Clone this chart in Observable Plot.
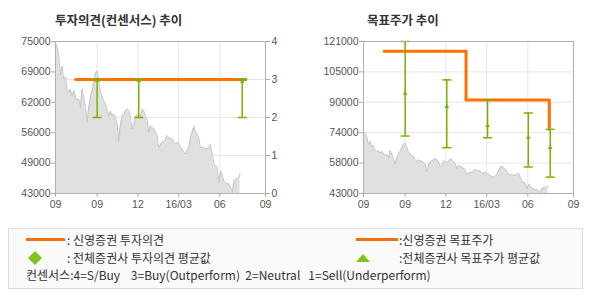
<!DOCTYPE html>
<html><head><meta charset="utf-8">
<script src="https://cdn.jsdelivr.net/npm/d3@7"></script>
<script src="https://cdn.jsdelivr.net/npm/@observablehq/plot@0.6"></script>
<style>
body{margin:0;background:#fff;}
#wrap{position:relative;width:590px;height:300px;overflow:hidden;}
.abs{position:absolute;white-space:pre;}
.title{font:bold 12.5px "Noto Sans CJK KR",sans-serif;color:#333;line-height:18px;top:11px;}
.lg{font:12px "Noto Sans CJK KR",sans-serif;color:#333;line-height:16px;}
#legend{position:absolute;left:8px;top:228px;width:573px;height:59px;border:1px solid #dcdcdc;background:#fafafa;}
.oline{position:absolute;height:3px;background:#f07010;}
</style></head>
<body><div id="wrap">
<div id="legend"></div>
<div id="leftChart" class="abs" style="left:0;top:0"></div>
<div id="rightChart" class="abs" style="left:295px;top:0"></div>
<div class="abs title" style="left:55px">투자의견(컨센서스) 추이</div>
<div class="abs title" style="left:367px">목표주가 추이</div>
<div class="oline" style="left:26px;top:238px;width:39px"></div>
<div class="abs lg" style="left:67px;top:232px">: 신영증권 투자의견</div>
<svg class="abs" style="left:28px;top:251px" width="14" height="14"><polygon points="7,0 14,7 7,14 0,7" fill="#7fc31c"/></svg>
<div class="abs lg" style="left:67px;top:250px">: 전체증권사 투자의견 평균값</div>
<div class="abs lg" style="left:26px;top:267px">컨센서스:4=S/Buy    3=Buy(Outperform)  2=Neutral   1=Sell(Underperform)</div>
<div class="oline" style="left:356px;top:238px;width:42px"></div>
<div class="abs lg" style="left:399px;top:232px">:신영증권 목표주가</div>
<svg class="abs" style="left:356px;top:254px" width="14" height="8"><polygon points="7,0 14,8 0,8" fill="#7fc31c"/></svg>
<div class="abs lg" style="left:399px;top:250px">:전체증권사 목표주가 평균값</div>
</div>
<script>
// ---- data ----
const xTickDates = ["2015-05-31","2015-09-01","2015-12-01","2016-03-01","2016-06-01","2016-09-11"];
const xTickLabels = ["09","09","12","16/03","06","09"];

const priceDates = ["2015-05-31","2015-06-04","2015-06-07","2015-06-11","2015-06-15","2015-06-18","2015-06-22","2015-06-26","2015-06-30","2015-07-03",
"2015-07-07","2015-07-11","2015-07-15","2015-07-18","2015-07-22","2015-07-26","2015-07-29","2015-08-02","2015-08-06","2015-08-10",
"2015-08-13","2015-08-17","2015-08-21","2015-08-25","2015-08-28","2015-09-01","2015-09-05","2015-09-08","2015-09-12","2015-09-16",
"2015-09-20","2015-09-23","2015-09-27","2015-10-01","2015-10-04","2015-10-08","2015-10-12","2015-10-16","2015-10-19","2015-10-23",
"2015-10-27","2015-10-31","2015-11-03","2015-11-07","2015-11-11","2015-11-14","2015-11-18","2015-11-22","2015-11-26","2015-11-29",
"2015-12-03","2015-12-07","2015-12-11","2015-12-14","2015-12-18","2015-12-22","2015-12-25","2015-12-29","2016-01-02","2016-01-06",
"2016-01-09","2016-01-13","2016-01-17","2016-01-21","2016-01-24","2016-01-28","2016-02-01","2016-02-04","2016-02-08","2016-02-12",
"2016-02-16","2016-02-19","2016-02-23","2016-02-27","2016-03-02","2016-03-05","2016-03-09","2016-03-13","2016-03-16","2016-03-20",
"2016-03-24","2016-03-28","2016-03-31","2016-04-04","2016-04-08","2016-04-12","2016-04-15","2016-04-19","2016-04-23","2016-04-26",
"2016-04-30","2016-05-04","2016-05-08","2016-05-11","2016-05-15","2016-05-19","2016-05-23","2016-05-26","2016-05-30","2016-06-03",
"2016-06-06","2016-06-10","2016-06-14","2016-06-18","2016-06-21","2016-06-25","2016-06-29","2016-07-02","2016-07-06","2016-07-10",
"2016-07-14","2016-07-16"];
const prices = [74800,73800,72400,68000,69800,67100,67500,65000,64300,65000,
63600,64700,63300,62600,62900,61100,65000,63300,61100,58000,
61100,63300,64700,66800,68200,68800,66500,64500,63500,62500,
61800,60500,59400,60400,59400,59700,59000,57600,54100,57600,
59400,59700,60400,60800,60400,59400,56600,57600,59400,59700,
58700,59400,60800,60400,59400,58300,55900,57300,56900,56600,
55900,55200,52700,53400,53800,53800,54500,55200,54800,54500,
54500,53800,53400,53800,53400,52700,52400,51600,51300,52000,
52700,55200,55900,57100,55900,55500,54500,52700,52700,52700,
52400,52400,52700,53400,51300,49200,48800,48500,45300,47700,
47100,45600,45300,45000,45100,44300,43200,45600,46000,46000,
46400,47200];

// left chart: price axis + consensus (0-4)
const leftDomain = [43000, 75000];
const leftTicks = [43000, 49400, 55800, 62200, 68600, 75000];
const leftTickLabels = ["43000","49000","56000","62000","69000","75000"];
const opinionTicks = [0, 1, 2, 3, 4];
const opinionLabels = ["0","1","2","3","4"];
const opinionDates = ["2015-07-15", "2016-07-29"];
const opinionValues = [3, 3];
const consDates = ["2015-09-01", "2015-12-03", "2016-07-21"];
const consLow = [2, 2, 2];
const consHigh = [3, 3, 3];
const consMean = [2.97, 2.97, 2.95];

// right chart: target price
const rightDomain = [43000, 121000];
const rightTicks = [43000, 58600, 74200, 89800, 105400, 121000];
const rightTickLabels = ["43000","58000","74000","90000","105000","121000"];
const targetDates = ["2015-07-16", "2016-01-15", "2016-07-19", "2016-07-19"];
const targetValues = [116000, 91000, 91000, 76000];
const tpDates = ["2015-09-01", "2015-12-03", "2016-03-03", "2016-06-02", "2016-07-21"];
const tpLow = [72500, 66500, 71600, 56600, 51400];
const tpHigh = [121000, 101300, 91000, 84300, 75900];
const tpMean = [94400, 87600, 77800, 71800, 66500];

// ---- build ----
const P = d3.utcParse("%Y-%m-%d");
const xd = xTickDates.map(P);
const xLab = new Map(xd.map((d, i) => [+d, xTickLabels[i]]));
const priceData = priceDates.map((d, i) => ({date: P(d), price: prices[i]}));
const orange = "#ff7200", green = "#74b400";
const cap = {draw(ctx) { ctx.moveTo(-4.5, 0); ctx.lineTo(4.5, 0); }};

const baseStyle = {fontFamily: '"Liberation Sans",Arial,sans-serif', fontSize: "10.5px", color: "#555", background: "transparent", overflow: "visible"};

function errorBars(dates, low, high, mean, fy) {
  const data = dates.map((d, i) => ({date: P(d), low: fy(low[i]), high: fy(high[i]), mean: fy(mean[i])}));
  return [
    Plot.ruleX(data, {x: "date", y1: "low", y2: "high", stroke: green, strokeWidth: 1.5}),
    Plot.dot(data, {x: "date", y: "low", symbol: cap, fill: "none", stroke: green, strokeWidth: 1.5}),
    Plot.dot(data, {x: "date", y: "high", symbol: cap, fill: "none", stroke: green, strokeWidth: 1.5}),
    Plot.dot(data, {x: "date", y: "mean", symbol: "triangle", r: 1.7, fill: green, stroke: "none"})
  ];
}

function xAxis() {
  return Plot.axisX({ticks: xd, tickFormat: d => xLab.get(+d), tickSize: 4, tickPadding: 3, stroke: "#aaa", fill: "#555", label: null});
}

// left
const op = v => leftDomain[0] + v * (leftDomain[1] - leftDomain[0]) / 4;
const leftLab = new Map(leftTicks.map((d, i) => [d, leftTickLabels[i]]));
const opLab = new Map(opinionTicks.map((d, i) => [op(d), opinionLabels[i]]));
const opLine = opinionDates.map((d, i) => ({date: P(d), v: op(opinionValues[i])}));

const left = Plot.plot({
  width: 295, height: 215, marginLeft: 55, marginRight: 30, marginTop: 41, marginBottom: 22,
  style: baseStyle,
  x: {type: "utc", domain: [xd[0], xd[xd.length - 1]]},
  y: {domain: leftDomain},
  marks: [
    Plot.ruleX(xd.slice(1, -1), {stroke: "#e6e6e6"}),
    Plot.ruleY(opinionTicks.slice(1, -1).map(op), {stroke: "#e6e6e6"}),
    Plot.areaY(priceData, {x: "date", y1: d => leftDomain[0], y2: "price", fill: "#e0e0e0"}),
    Plot.lineY(priceData, {x: "date", y: "price", stroke: "#c6c6c6", strokeWidth: 1}),
    Plot.line(opLine, {x: "date", y: "v", stroke: orange, strokeWidth: 3}),
    ...errorBars(consDates, consLow, consHigh, consMean, op),
    Plot.frame({stroke: "#b0b0b0"}),
    Plot.axisY({ticks: leftTicks, tickFormat: d => leftLab.get(d), tickSize: 4, tickPadding: 1, stroke: "#aaa", fill: "#555", label: null}),
    Plot.axisY({anchor: "right", ticks: opinionTicks.map(op), tickFormat: d => opLab.get(d), tickSize: 4, tickPadding: 2, stroke: "#aaa", fill: "#555", label: null}),
    xAxis()
  ]
});
document.getElementById("leftChart").append(left);

// right
const rightLab = new Map(rightTicks.map((d, i) => [d, rightTickLabels[i]]));
const tLine = targetDates.map((d, i) => ({date: P(d), v: targetValues[i]}));
const right = Plot.plot({
  width: 295, height: 215, marginLeft: 68, marginRight: 17, marginTop: 41, marginBottom: 22,
  style: baseStyle,
  x: {type: "utc", domain: [xd[0], xd[xd.length - 1]]},
  y: {domain: rightDomain},
  marks: [
    Plot.ruleX(xd.slice(1, -1), {stroke: "#e6e6e6"}),
    Plot.ruleY(rightTicks.slice(1, -1), {stroke: "#e6e6e6"}),
    Plot.areaY(priceData, {x: "date", y1: d => rightDomain[0], y2: "price", fill: "#e0e0e0"}),
    Plot.lineY(priceData, {x: "date", y: "price", stroke: "#c6c6c6", strokeWidth: 1}),
    Plot.line(tLine, {x: "date", y: "v", curve: "step-after", stroke: orange, strokeWidth: 3}),
    ...errorBars(tpDates, tpLow, tpHigh, tpMean, v => v),
    Plot.frame({stroke: "#b0b0b0"}),
    Plot.axisY({ticks: rightTicks, tickFormat: d => rightLab.get(d), tickSize: 4, tickPadding: 1, stroke: "#aaa", fill: "#555", label: null}),
    xAxis()
  ]
});
document.getElementById("rightChart").append(right);
</script>
</body></html>
